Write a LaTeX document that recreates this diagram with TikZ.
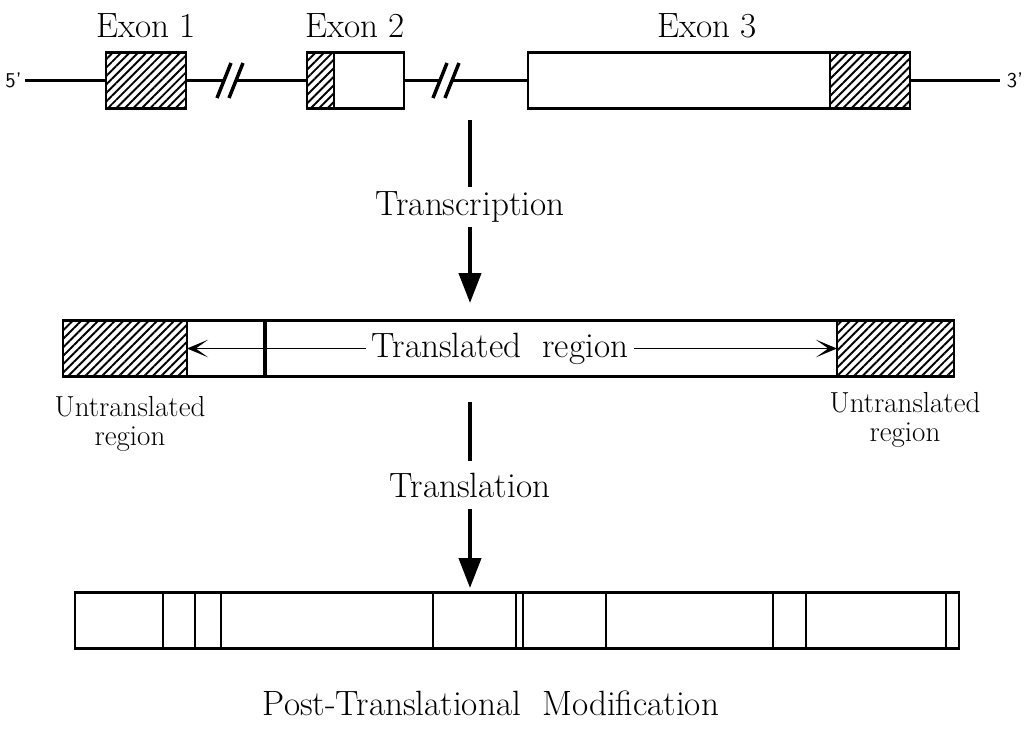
\documentclass[tikz,border=0pt]{standalone}
\usepackage{tikz}
\usetikzlibrary{arrows.meta}
\usetikzlibrary{positioning}
\usetikzlibrary{patterns.meta}
\tikzstyle{exon}=[
        rectangle,
        draw,
        line width=1.6pt,
        inner sep=0pt,
        outer sep=0pt,
        minimum height=1.12cm,
        fill=white
]
\tikzstyle{utr}=[exon,pattern={Lines[angle=45,distance=3.4pt,line width=1.1pt]}]
\tikzstyle{lbl}=[font=\fontsize{20}{24}\selectfont]
\tikzstyle{note}=[font=\fontsize{16.5}{16.5}\selectfont,align=center]
\tikzstyle{prime}=[font=\sffamily\fontsize{12}{14}\selectfont]
\tikzstyle{dna}=[line width=1.6pt]
\tikzstyle{brk}=[line width=2pt]
\tikzstyle{flow}=[line width=2.3pt]
\tikzstyle{suite}=[flow,-{Triangle[length=17pt,width=12.5pt]}]
\tikzstyle{trarrow}=[line width=0.9pt,-{Stealth[length=12pt,width=10pt,inset=7pt]}]
\tikzstyle{divider}=[line width=1.5pt]
\begin{document}
\begin{tikzpicture}
\useasboundingbox (0,0) rectangle (20.66,-14.8);
% gene
\node[prime] (five) at (0.27,-1.61) {5'};
\node[prime] (three) at (20.3,-1.61) {3'};
\coordinate (p5) at (0.5,-1.61);
\coordinate (p3) at (20.0,-1.61);
\node[utr,minimum width=1.6cm] (e1) at (2.92,-1.61) {};
\node[utr,minimum width=0.54cm] (e2a) at (6.41,-1.61) {};
\node[exon,minimum width=1.4cm,right=0pt of e2a] (e2b) {};
\node[exon,minimum width=6.04cm] (e3a) at (13.58,-1.61) {};
\node[utr,minimum width=1.6cm,right=0pt of e3a] (e3b) {};
\node[lbl] (x1) at (2.92,-0.52) {Exon 1};
\node[lbl] (x2) at (7.1,-0.52) {Exon 2};
\node[lbl] (x3) at (14.14,-0.52) {Exon 3};
\coordinate (b1l) at (4.48,-1.61);
\coordinate (b1r) at (4.72,-1.61);
\coordinate (b2l) at (8.8,-1.61);
\coordinate (b2r) at (9.04,-1.61);
%Drawing the gene
\draw[dna] (p5) -- (e1.west);
\draw[dna] (e1.east) -- (b1l);
\draw[dna] (b1r) -- (e2a.west);
\draw[dna] (e2b.east) -- (b2l);
\draw[dna] (b2r) -- (e3a.west);
\draw[dna] (e3b.east) -- (p3);
\foreach \b in {b1l,b1r,b2l,b2r}
  \draw[brk] (\b) ++(-0.14,-0.35) -- ++(0.28,0.7);
% transcription
\coordinate (s1) at (9.4,-2.4);
\node[lbl,inner ysep=2.6pt] (trc) at (9.4,-4.14) {Transcription};
\coordinate (s2) at (9.4,-6.06);
\draw[flow] (s1) -- (trc);
\draw[suite] (trc) -- (s2);
% mRNA
\node[utr,minimum width=2.48cm] (utrL) at (2.5,-6.97) {};
\node[exon,minimum width=13cm,right=0pt of utrL] (cds) {};
\node[utr,minimum width=2.34cm,right=0pt of cds] (utrR) {};
\draw[line width=2.2pt] (cds.north -| 5.3,0) -- (cds.south -| 5.3,0);
\node[lbl,inner xsep=3pt] (trl) at (10.0,-6.97) {Translated\ \ region};
\draw[trarrow] (trl.west) -- (utrL.east);
\draw[trarrow] (trl.east) -- (utrR.west);
\node[note] (uL) at (2.6,-8.48) {Untranslated\\region};
\node[note] (uR) at (18.1,-8.4) {Untranslated\\region};
% translation
\coordinate (s3) at (9.4,-8.04);
\node[lbl,inner ysep=6.4pt] (trn) at (9.4,-9.7) {Translation};
\coordinate (s4) at (9.4,-11.76);
\draw[flow] (s3) -- (trn);
\draw[suite] (trn) -- (s4);
% protein
\node[exon,minimum width=17.68cm] (prot) at (10.34,-12.41) {};
\foreach \x in {3.26,3.9,4.42,8.66,12.12,15.46,16.12,18.92}
  \draw[divider] (prot.north -| \x,0) -- (prot.south -| \x,0);
\foreach \x in {10.32,10.46}
  \draw[line width=1pt] (prot.north -| \x,0) -- (prot.south -| \x,0);
\node[lbl] (ptm) at (9.82,-14.06) {Post-Translational\ \ Modification};
\end{tikzpicture}
\end{document}
